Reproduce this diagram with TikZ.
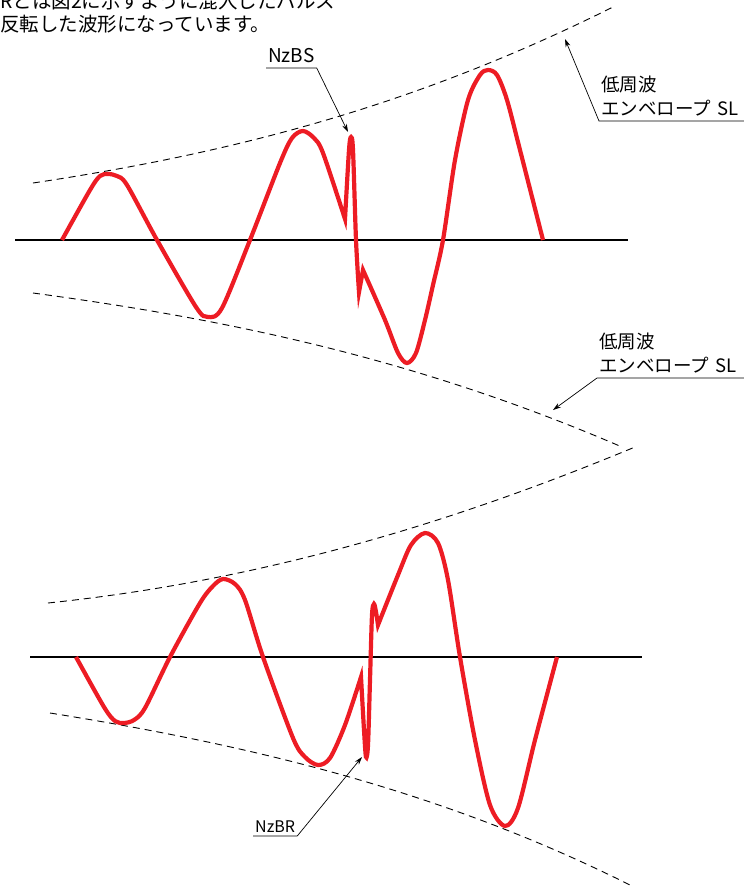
\documentclass[tikz,border=0pt]{standalone}
\usepackage{fontspec}
\setmainfont{Noto Sans CJK JP}
\usetikzlibrary{arrows.meta}
\definecolor{wred}{RGB}{237,28,36}
\tikzset{
  axis/.style  = {line width=2.8pt},
  wave/.style  = {draw=wred, line width=4.2pt},
  env/.style   = {line width=0.9pt, dash pattern=on 7pt off 5pt},
  lead/.style  = {line width=0.7pt, -{Stealth[length=8pt,width=5pt]}},
  lbl/.style   = {anchor=south west, inner xsep=2pt, inner ysep=5pt,
                  font=\fontsize{19}{24}\selectfont},
  lbls/.style  = {lbl, font=\fontsize{16}{18}\selectfont, inner ysep=3pt},
  lblsl/.style = {lbl, font=\fontsize{18.5}{24}\selectfont, text width=146pt,
                  align=left, inner ysep=5pt},
  para/.style  = {anchor=base west, inner sep=0pt,
                  font=\fontsize{19.5}{23}\selectfont},
}
\begin{document}
\begin{tikzpicture}[x=1pt,y=-1pt]
  \useasboundingbox (0,0) rectangle (744,887);
  % text above
  \node[para] (p1) at (0,8) {Rとは図2に示すように混入したパルス};
  \node[para] (p2) at (0,31) {反転した波形になっています。};
  % upper wave
  \draw[env] (33,183) .. controls (233,153) and (415,106) .. (615,6);
  \draw[env] (33,293) .. controls (233,320) and (420,360) .. (622,447);
  \draw[axis] (15,240) -- (628,240);
  \draw[wave] plot[smooth, tension=0.5] coordinates {(62,240) (90,190)
      (100,176) (108,174) (117,176) (127,185) (157,240) (196,307) (208,317)
      (222,308) (250,240) (280,163) (292,138) (303,131) (314,138) (323,153)
      (345,219)}
    -- plot[smooth, tension=0.5] coordinates {(345,219) (349,150) (351,137)
      (353,150) (356,240) (359,292)}
    -- (363,270)
    -- plot[smooth, tension=0.5] coordinates {(363,270) (385,320) (398,353)
      (407,363) (416,353) (425,320) (433,285) (443,240) (455,160) (468,100)
      (480,75) (488,70) (497,75) (507,100) (520,150) (543,240)};
  % lower wave
  \draw[env] (48,603) .. controls (248,582) and (435,530) .. (635,447);
  \draw[env] (50,713) .. controls (250,745) and (440,790) .. (630,885);
  \draw[axis] (30,657) -- (642,657);
  \draw[wave] plot[smooth, tension=0.5] coordinates {(76,657) (104,707)
      (115,721) (124,723) (134,720) (145,708) (170,657) (200,603) (213,586)
      (223,579) (235,584) (245,600) (263,657) (293,738) (305,757) (318,765)
      (330,758) (345,725) (361,677)}
    -- plot[smooth, tension=0.5] coordinates {(361,677) (364,730) (366,757)
      (368,745) (370,680) (372,615) (374,604) (376,612) (378,625)}
    -- plot[smooth, tension=0.5] coordinates {(378,625) (398,575) (411,545)
      (425,533) (438,543) (448,580) (460,657) (475,740) (490,805) (505,826)
      (518,808) (535,740) (557,657)};
  % labels
  \coordinate (tipBS) at (348,132);
  \coordinate (tipA) at (565,39);
  \coordinate (tipB) at (553,410);
  \coordinate (tipBR) at (362,757);
  \node[lbl] (bs) at (266,68) {NzBS};
  \draw[lead] (bs.south west) -- (bs.south east) -- (tipBS);
  \node[lblsl] (slA) at (599,121) {低周波\\エンベロープ SL};
  \draw[lead] (slA.south east) -- (slA.south west) -- (tipA);
  \node[lblsl] (slB) at (597,378) {低周波\\エンベロープ SL};
  \draw[lead] (slB.south east) -- (slB.south west) -- (tipB);
  \node[lbls] (br) at (253,836) {NzBR};
  \draw[lead] (br.south west) -- (br.south east) -- (tipBR);
\end{tikzpicture}
\end{document}
